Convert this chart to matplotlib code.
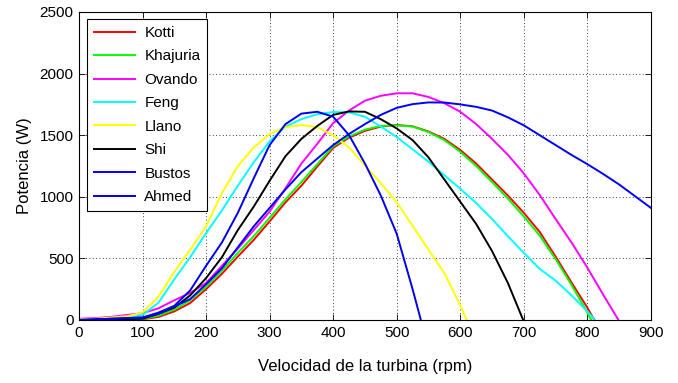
import matplotlib.pyplot as plt
import numpy as np

plt.rcParams['font.family'] = ['Liberation Sans', 'DejaVu Sans']

# Kotti (red)
kotti_x = [0, 50, 100, 125, 150, 175, 200, 225, 250, 275, 300, 325, 350, 375, 400, 425, 450, 475, 500,
           525, 550, 575, 600, 625, 650, 675, 700, 725, 750, 775, 800, 811]
kotti_y = [0, 0, 5, 25, 70, 138, 250, 375, 515, 650, 800, 955, 1090, 1245, 1397, 1480, 1535, 1570, 1583,
           1572, 1530, 1470, 1380, 1270, 1140, 1010, 870, 715, 515, 305, 100, 0]

# Khajuria (green)
khaj_x = [0, 50, 100, 125, 150, 175, 200, 225, 250, 275, 300, 325, 350, 375, 400, 425, 450, 475, 500,
          525, 550, 575, 600, 625, 650, 675, 700, 725, 750, 775, 800, 806]
khaj_y = [0, 0, 8, 35, 85, 160, 270, 400, 545, 680, 830, 980, 1120, 1265, 1410, 1490, 1545, 1575, 1580,
          1570, 1525, 1460, 1365, 1250, 1120, 985, 840, 685, 495, 285, 60, 0]

# Ovando (magenta)
ovan_x = [0, 25, 50, 75, 100, 125, 150, 175, 200, 225, 250, 275, 300, 325, 350, 375, 400, 425, 450, 475,
          500, 525, 550, 575, 600, 625, 650, 675, 700, 725, 750, 775, 800, 825, 849]
ovan_y = [10, 15, 25, 40, 55, 95, 160, 220, 300, 440, 580, 730, 880, 1070, 1270, 1430, 1598, 1700, 1780, 1820,
          1840, 1840, 1810, 1760, 1690, 1590, 1470, 1340, 1190, 1015, 820, 630, 425, 205, 0]

# Feng (cyan)
feng_x = [0, 50, 75, 100, 125, 150, 175, 200, 225, 250, 275, 300, 325, 350, 375, 400, 425, 450, 475, 500,
          525, 550, 575, 600, 625, 650, 675, 700, 725, 750, 775, 800, 812]
feng_y = [0, 5, 15, 40, 140, 330, 510, 705, 890, 1090, 1280, 1450, 1570, 1630, 1670, 1688, 1685, 1650, 1570, 1485,
          1385, 1285, 1175, 1065, 950, 820, 680, 545, 415, 320, 200, 70, 0]

# Llano (yellow)
llano_x = [0, 25, 50, 75, 100, 125, 150, 175, 200, 225, 250, 275, 300, 325, 350, 375, 400, 425, 450, 475,
           500, 525, 550, 575, 600, 610]
llano_y = [5, 10, 20, 30, 60, 190, 390, 570, 760, 1030, 1250, 1400, 1510, 1565, 1583, 1565, 1500, 1400, 1255, 1110,
           955, 765, 570, 380, 120, 0]

# Shi (black)
shi_x = [0, 100, 125, 150, 175, 200, 225, 250, 275, 300, 325, 350, 375, 400, 425, 450, 475, 500, 525, 550,
         575, 600, 625, 650, 675, 699]
shi_y = [0, 10, 50, 100, 200, 340, 510, 730, 920, 1130, 1330, 1470, 1575, 1665, 1693, 1690, 1630, 1555, 1460, 1320,
         1140, 960, 780, 560, 300, 0]

# Bustos (blue)
bust_x = [0, 100, 125, 150, 175, 200, 225, 250, 275, 300, 325, 350, 375, 400, 425, 450, 475, 500, 525, 550,
          575, 600, 625, 650, 675, 700, 725, 750, 775, 800, 825, 850, 875, 900]
bust_y = [0, 20, 50, 110, 170, 290, 420, 590, 760, 910, 1060, 1200, 1310, 1420, 1510, 1590, 1665, 1722, 1752, 1766,
          1765, 1750, 1730, 1700, 1645, 1580, 1500, 1420, 1340, 1265, 1185, 1100, 1005, 910]

# Ahmed (blue)
ahm_x = [0, 100, 125, 150, 175, 200, 225, 250, 275, 300, 325, 350, 375, 400, 425, 450, 475, 500, 525, 538]
ahm_y = [0, 20, 60, 115, 240, 440, 630, 870, 1150, 1420, 1590, 1675, 1690, 1650, 1500, 1270, 1010, 700, 250, 0]

series = [
    ('Kotti', kotti_x, kotti_y, '#ff0000'),
    ('Khajuria', khaj_x, khaj_y, '#00ff00'),
    ('Ovando', ovan_x, ovan_y, '#ff00ff'),
    ('Feng', feng_x, feng_y, '#00ffff'),
    ('Llano', llano_x, llano_y, '#ffff00'),
    ('Shi', shi_x, shi_y, '#000000'),
    ('Bustos', bust_x, bust_y, '#0000ff'),
    ('Ahmed', ahm_x, ahm_y, '#0000ee'),
]

fig = plt.figure(figsize=(6.78, 3.83), dpi=100)
ax = fig.add_axes([0.1165, 0.1645, 0.8435, 0.8042])

for name, x, y, c in series:
    ax.plot(x, y, color=c, lw=1.4, label=name)

ax.set_xlim(0, 900)
ax.set_ylim(0, 2500)
ax.set_xticks(np.arange(0, 901, 100))
ax.set_yticks(np.arange(0, 2501, 500))
ax.grid(True, color='black', linestyle=(0, (1, 3)), lw=0.6)
ax.tick_params(direction='in', top=True, right=True, labelsize=11, length=4, width=0.6, pad=4)
for s in ax.spines.values():
    s.set_linewidth(0.8)

ax.set_xlabel('Velocidad de la turbina (rpm)', fontsize=12, labelpad=14)
ax.set_ylabel('Potencia (W)', fontsize=12, labelpad=5)

leg = ax.legend(loc='upper left', fontsize=11, handlelength=2.7, handletextpad=0.6, fancybox=False,
                framealpha=1, edgecolor='black', borderpad=0.45, labelspacing=0.62,
                borderaxespad=0, bbox_to_anchor=(0.014, 0.977))
leg.get_frame().set_linewidth(0.8)

fig.savefig('out.png', dpi=100)
